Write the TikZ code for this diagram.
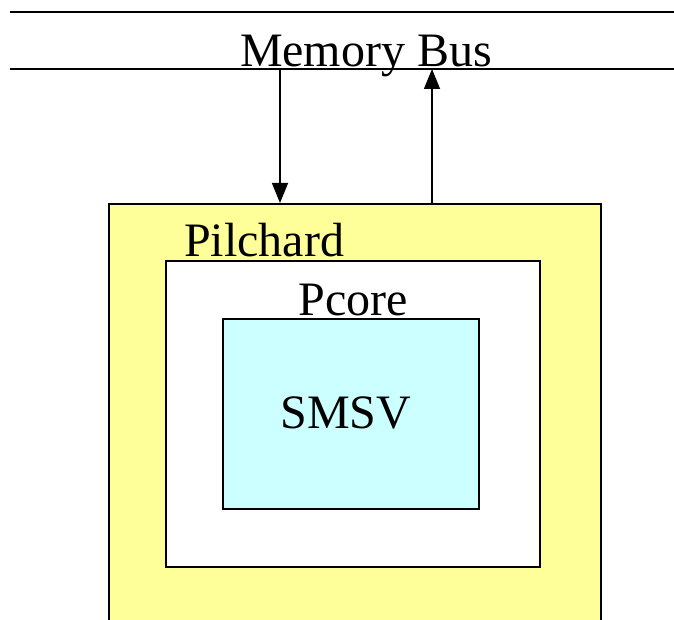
\documentclass[tikz,border=0pt]{standalone}
\usepackage{fontspec}
\setmainfont{Liberation Serif}
\usetikzlibrary{arrows.meta}
\definecolor{pilyellow}{HTML}{FFFF99}
\definecolor{smsvcyan}{HTML}{CCFFFF}
\begin{document}
\begin{tikzpicture}[x=1pt,y=-1pt,line width=2pt,>={Triangle[length=20pt,width=16pt]},font=\fontsize{48}{52}\selectfont]
	\tikzset{box/.style={draw,inner sep=0pt,anchor=north west},
		lbl/.style={inner sep=0pt,anchor=base}}
	\useasboundingbox (0,0) rectangle (674,620);
	\clip (0,0) rectangle (674,620);
	%--------- Bus
	\draw (10,12)--(674,12);
	\node[lbl] (buslbl) at (366,67) {Memory Bus};
	\draw (10,69)--(674,69);
	\coordinate (busin) at (280,69);
	\coordinate (busout) at (432,69);
	%--------- Khoi
	\node[box,fill=pilyellow,minimum width=492,minimum height=440] (pilchard) at (108,203) {};
	\node[lbl] (pilchardlbl) at (264,257) {Pilchard};
	\node[box,fill=white,minimum width=374,minimum height=306] (pcore) at (165,260) {};
	\node[lbl] (pcorelbl) at (353,315) {Pcore};
	\node[box,fill=smsvcyan,minimum width=256,minimum height=190] (smsv) at (222,318) {};
	\node[lbl] (smsvlbl) at (346,428) {SMSV};
	%--------- Mui ten
	\draw[->,line width=1.5pt] (busin)--(busin |- pilchard.north);
	\draw[->,line width=1.5pt] (busout |- pilchard.north)--(busout);
\end{tikzpicture}
\end{document}
